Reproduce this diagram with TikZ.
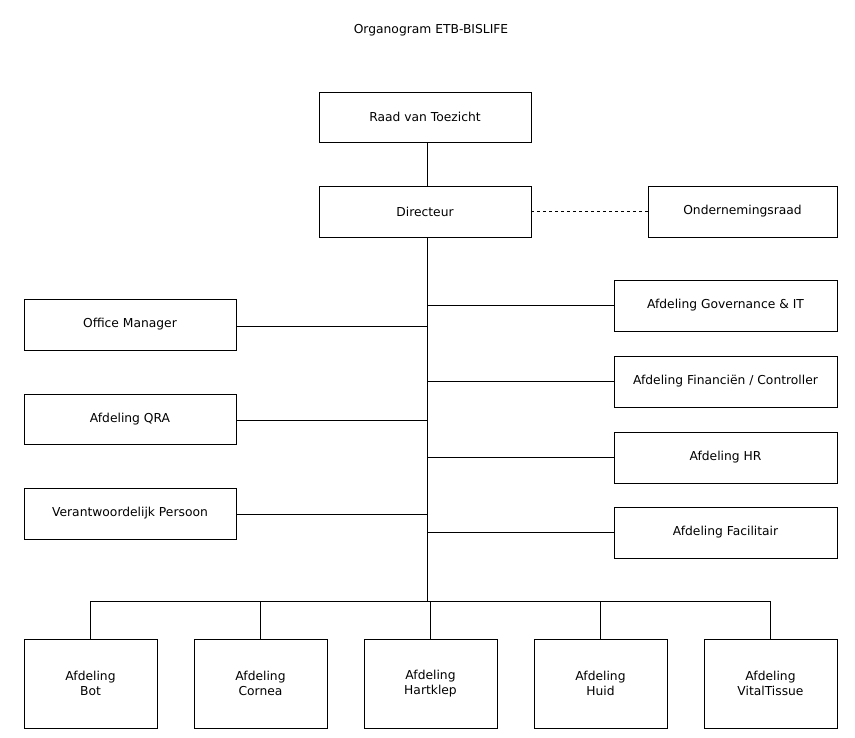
\documentclass[tikz,border=0pt]{standalone}
\usepackage{fontspec}
\setmainfont{DejaVu Sans}
\begin{document}
\begin{tikzpicture}[x=1pt,y=-1pt,
  box/.style={draw,line width=0.8pt,align=center,inner sep=0pt,font=\fontsize{12.3}{15.5}\selectfont},
  ln/.style={line width=0.8pt}]
\useasboundingbox (0,0) rectangle (855,738);
\node[font=\fontsize{12.3}{15}\selectfont] (title) at (431,30) {Organogram ETB-BISLIFE};
\node[box,minimum width=212pt,minimum height=50pt] (raad) at (425,117) {Raad van Toezicht};
\node[box,minimum width=212pt,minimum height=51pt] (dir) at (425,211.5) {Directeur};
\node[box,minimum width=189pt,minimum height=51pt] (or) at (742.5,211.5) {Ondernemingsraad};
\node[box,minimum width=212pt,minimum height=51pt] (om) at (130,324.5) {Office Manager};
\node[box,minimum width=212pt,minimum height=50pt] (qra) at (130,419) {Afdeling QRA};
\node[box,minimum width=212pt,minimum height=51pt] (vp) at (130,513.5) {Verantwoordelijk Persoon};
\node[box,minimum width=223pt,minimum height=51pt] (gov) at (725.5,305.5) {Afdeling Governance \& IT};
\node[box,minimum width=223pt,minimum height=51pt] (fin) at (725.5,381.5) {Afdeling Financiën / Controller};
\node[box,minimum width=223pt,minimum height=51pt] (hr) at (725.5,457.5) {Afdeling HR};
\node[box,minimum width=223pt,minimum height=51pt] (fac) at (725.5,532.5) {Afdeling Facilitair};
\foreach \n/\x/\t in {bot/90.5/Bot,cor/260.5/Cornea,hart/430.5/Hartklep,huid/600.5/Huid,vit/770.5/VitalTissue}
  \node[box,minimum width=133pt,minimum height=89pt] (\n) at (\x,683.5) {Afdeling\\\t};
\coordinate (bus) at (427,601);
\draw[ln] (raad.south -| bus) -- (dir.north -| bus);
\draw[ln] (dir.south -| bus) -- (bus);
\draw[ln,dashed] (dir.east) -- (or.west);
\foreach \n/\y in {om/326,qra/420,vp/514}
  \draw[ln] (\n.east |- 0,\y) -- (427,\y);
\foreach \n/\y in {gov/305,fin/381,hr/457,fac/532}
  \draw[ln] (427,\y) -- (\n.west |- 0,\y);
\draw[ln] (bot.north |- bus) -- (vit.north |- bus);
\foreach \n in {bot,cor,hart,huid,vit}
  \draw[ln] (\n.north |- bus) -- (\n.north);
\end{tikzpicture}
\end{document}
